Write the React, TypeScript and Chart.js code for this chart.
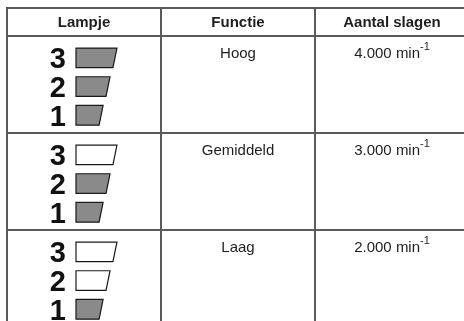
import React, { useEffect, useRef } from "react";
import { Chart, registerables } from "chart.js";

Chart.register(...registerables);

// ---- data ----
const headers = ["Lampje", "Functie", "Aantal slagen"];
const functions = ["Hoog", "Gemiddeld", "Laag"];
const speeds = ["4.000", "3.000", "2.000"];
const speedUnit = "min";
const speedExponent = "-1";
const lampLevels = [3, 2, 1];
const litLamps = [3, 2, 1];

const FONT = "'Liberation Sans', Arial, Helvetica, sans-serif";
const HEADER_H = 28 / 97;

const tablePlugin = {
  id: "tablePlugin",
  afterDraw(chart: any) {
    const ctx = chart.ctx as CanvasRenderingContext2D;
    const xs = chart.scales.x;
    const ys = chart.scales.y;
    const X = (v: number) => xs.getPixelForValue(v);
    const Y = (v: number) => ys.getPixelForValue(v);
    const nCols = headers.length;
    const nRows = functions.length;

    ctx.save();
    // grid
    ctx.strokeStyle = "#5a5a5a";
    ctx.lineWidth = 2;
    const hLines = [-HEADER_H];
    for (let r = 0; r <= nRows; r++) hLines.push(r);
    hLines.forEach((v) => {
      const y = Math.round(Y(v));
      ctx.beginPath();
      ctx.moveTo(X(0) - 1, y);
      ctx.lineTo(X(nCols) + 1, y);
      ctx.stroke();
    });
    for (let c = 0; c <= nCols; c++) {
      const x = Math.round(X(c));
      ctx.beginPath();
      ctx.moveTo(x, Y(-HEADER_H) - 1);
      ctx.lineTo(x, Y(nRows) + 1);
      ctx.stroke();
    }

    // headers
    ctx.fillStyle = "#1e1e1e";
    ctx.font = `bold 15px ${FONT}`;
    ctx.textAlign = "center";
    ctx.textBaseline = "middle";
    headers.forEach((h, c) => {
      ctx.fillText(h, X(c + 0.5), Y(-HEADER_H / 2) + 1);
    });

    // rows
    for (let r = 0; r < nRows; r++) {
      const base = Y(r) + 21.5;
      ctx.font = `15px ${FONT}`;
      ctx.textAlign = "center";
      ctx.textBaseline = "alphabetic";
      ctx.fillStyle = "#1e1e1e";
      ctx.fillText(functions[r], X(1.5), base);

      // speed with superscript
      const main = `${speeds[r]} ${speedUnit}`;
      ctx.font = `15px ${FONT}`;
      const wMain = ctx.measureText(main).width;
      ctx.font = `11px ${FONT}`;
      const wExp = ctx.measureText(speedExponent).width;
      const start = X(2.5) - (wMain + wExp) / 2;
      ctx.textAlign = "left";
      ctx.font = `15px ${FONT}`;
      ctx.fillText(main, start, base);
      ctx.font = `11px ${FONT}`;
      ctx.fillText(speedExponent, start + wMain, base - 8);

      // lamps
      lampLevels.forEach((level, i) => {
        const top = r + 0.124 + i * 0.296;
        const bottom = top + 0.203;
        const left = 0.448;
        const wTop = 0.266 - i * 0.045;
        const slant = 0.026;
        const yT = Y(top);
        const yB = Y(bottom);
        ctx.beginPath();
        ctx.moveTo(X(left), yT);
        ctx.lineTo(X(left + wTop), yT);
        ctx.lineTo(X(left + wTop - slant), yB);
        ctx.lineTo(X(left), yB);
        ctx.closePath();
        ctx.fillStyle = level <= litLamps[r] ? "#8a8a8a" : "#ffffff";
        ctx.fill();
        ctx.strokeStyle = "#1a1a1a";
        ctx.lineWidth = 1.2;
        ctx.stroke();

        ctx.fillStyle = "#111111";
        ctx.font = `bold 29px ${FONT}`;
        ctx.textAlign = "right";
        ctx.textBaseline = "alphabetic";
        ctx.fillText(String(level), X(0.383), yB + 0.5);
      });
    }
    ctx.restore();
  },
};

export default function App() {
  const ref = useRef<HTMLCanvasElement | null>(null);
  useEffect(() => {
    document.body.style.margin = "0";
    const canvas = ref.current;
    if (!canvas) return;
    const chart = new Chart(canvas, {
      type: "scatter",
      data: { datasets: [{ data: [], pointRadius: 0 }] },
      options: {
        animation: false,
        responsive: false,
        maintainAspectRatio: false,
        devicePixelRatio: 1,
        layout: { padding: { left: 7, top: 8, right: 0, bottom: 0 } },
        plugins: { legend: { display: false }, tooltip: { enabled: false } },
        scales: {
          x: { type: "linear", min: 0, max: 457 / 154, display: false },
          y: {
            type: "linear",
            reverse: true,
            min: -HEADER_H,
            max: 313 / 97 - HEADER_H,
            display: false,
          },
        },
      },
      plugins: [tablePlugin],
    });
    return () => chart.destroy();
  }, []);
  return (
    <div style={{ width: 464, height: 321, background: "#fff" }}>
      <canvas ref={ref} width={464} height={321} style={{ display: "block" }} />
    </div>
  );
}
